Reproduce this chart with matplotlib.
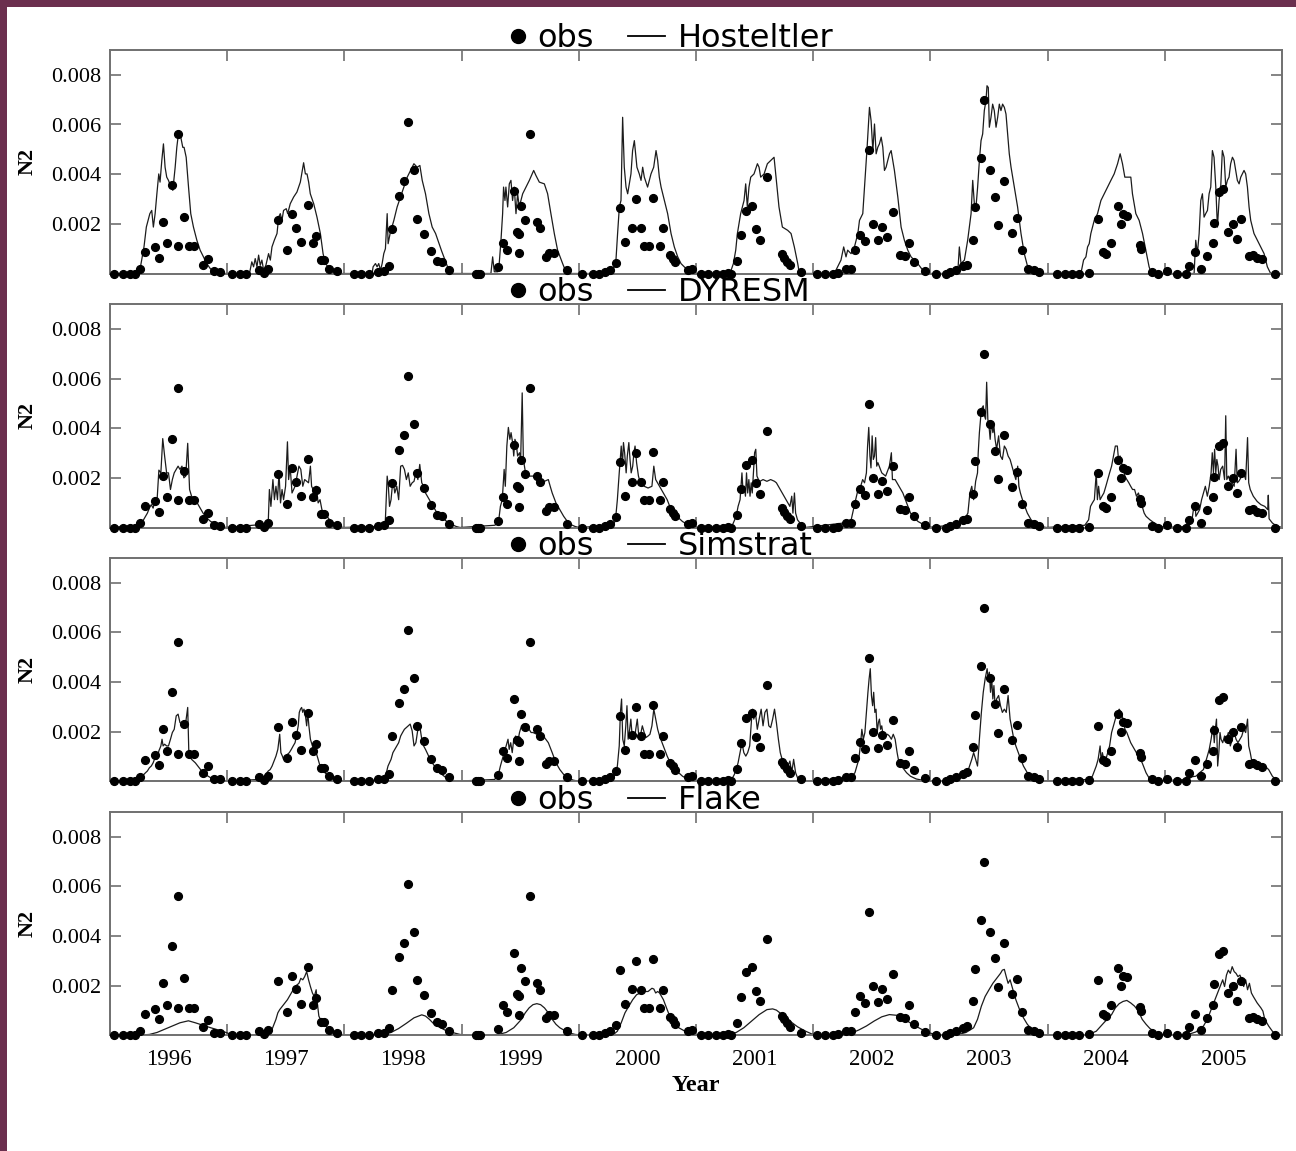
import numpy as np
import matplotlib
matplotlib.use("Agg")
import matplotlib.pyplot as plt
from matplotlib.lines import Line2D
from matplotlib.patches import Rectangle

# ---------------- data (N2 values in units of 1e-3) ----------------
model_names = ["Hosteltler", "DYRESM", "Simstrat", "Flake"]
year_labels = ["1996", "1997", "1998", "1999", "2000", "2001", "2002", "2003", "2004", "2005"]
y_tick_values = [0.002, 0.004, 0.006, 0.008]
y_tick_labels = ["0.002", "0.004", "0.006", "0.008"]

obs_pts = np.array([
    [1996.03, 0], [1996.11, 0], [1996.17, 0], [1996.21, 0], [1996.26, .17], [1996.30, .87], [1996.38, 1.06],
    [1996.42, .64], [1996.45, 2.09], [1996.49, 1.22], [1996.53, 3.58], [1996.58, 5.6], [1996.58, 1.09],
    [1996.63, 2.29], [1996.67, 1.09], [1996.72, 1.09], [1996.79, .34], [1996.84, .60], [1996.89, .10],
    [1996.94, .07], [1997.04, 0], [1997.11, 0], [1997.16, 0],
    [1997.27, .16], [1997.31, .03], [1997.35, .20], [1997.43, 2.17], [1997.51, .94], [1997.55, 2.38],
    [1997.59, 1.85], [1997.63, 1.27], [1997.69, 2.75], [1997.73, 1.22], [1997.76, 1.50], [1997.80, .53],
    [1997.83, .53], [1997.87, .20], [1997.94, .10], [1998.08, 0], [1998.14, 0], [1998.21, 0],
    [1998.29, .07], [1998.34, .10], [1998.38, .30], [1998.41, 1.81], [1998.47, 3.14], [1998.51, 3.71],
    [1998.54, 6.09], [1998.59, 4.17], [1998.62, 2.21], [1998.68, 1.60], [1998.74, .91], [1998.79, .52],
    [1998.83, .46], [1998.89, .16], [1999.12, 0], [1999.14, 0], [1999.16, 0],
    [1999.31, .25], [1999.35, 1.22], [1999.39, .94], [1999.45, 3.32], [1999.47, 1.67], [1999.49, 1.59],
    [1999.49, .82], [1999.51, 2.72], [1999.54, 2.17], [1999.58, 5.6], [1999.64, 2.09], [1999.67, 1.83],
    [1999.72, .68], [1999.75, .81], [1999.79, .81], [1999.90, .15], [2000.03, 0], [2000.12, 0],
    [2000.17, 0], [2000.22, .07],
    [2000.27, .16], [2000.32, .41], [2000.35, 2.64], [2000.39, 1.27], [2000.45, 1.85], [2000.49, 2.98],
    [2000.53, 1.83], [2000.56, 1.09], [2000.60, 1.09], [2000.63, 3.06], [2000.69, 1.10], [2000.72, 1.83],
    [2000.78, .74], [2000.80, .60], [2000.82, .45], [2000.93, .16], [2000.97, .20],
    [2001.04, 0], [2001.10, 0], [2001.17, 0], [2001.23, 0], [2001.27, .04], [2001.30, 0], [2001.35, .49],
    [2001.38, 1.54], [2001.43, 2.53], [2001.48, 2.73], [2001.51, 1.79], [2001.55, 1.36], [2001.61, 3.88],
    [2001.73, .77], [2001.75, .64], [2001.78, .48], [2001.80, .34], [2001.90, .07],
    [2002.03, 0], [2002.10, 0], [2002.17, 0], [2002.21, .04], [2002.28, .17], [2002.32, .17], [2002.36, .93],
    [2002.40, 1.56], [2002.44, 1.30], [2002.48, 4.98], [2002.51, 1.99], [2002.55, 1.35], [2002.59, 1.87],
    [2002.63, 1.46], [2002.68, 2.46], [2002.74, .74], [2002.78, .69], [2002.82, 1.23], [2002.86, .45],
    [2002.95, .12],
    [2003.05, 0], [2003.13, 0], [2003.17, .07], [2003.22, .16], [2003.28, .30], [2003.31, .36],
    [2003.36, 1.36], [2003.38, 2.68], [2003.43, 4.64], [2003.46, 6.99], [2003.51, 4.17], [2003.55, 3.10],
    [2003.58, 1.96], [2003.63, 3.71], [2003.70, 1.64], [2003.74, 2.25], [2003.78, .93], [2003.83, .20],
    [2003.88, .16], [2003.93, .07],
    [2004.08, 0], [2004.15, 0], [2004.21, 0], [2004.27, 0], [2004.35, .04], [2004.43, 2.21], [2004.47, .86],
    [2004.50, .77], [2004.54, 1.23], [2004.60, 2.72], [2004.63, 1.99], [2004.64, 2.38], [2004.68, 2.33],
    [2004.79, 1.14], [2004.80, .97], [2004.89, .07], [2004.94, 0],
    [2005.02, .10], [2005.10, 0], [2005.18, 0], [2005.21, .32], [2005.26, .87], [2005.31, .20],
    [2005.36, .69], [2005.41, 1.23], [2005.42, 2.05], [2005.46, 3.27], [2005.50, 3.39], [2005.54, 1.68],
    [2005.58, 1.99], [2005.62, 1.39], [2005.65, 2.19], [2005.72, .69], [2005.75, .74], [2005.79, .64],
    [2005.83, .58], [2005.94, 0],
])

hos_pts = np.array([
    [1996.0, 0], [1996.24, 0], [1996.26, .27], [1996.29, 1.07], [1996.31, 1.87], [1996.34, 2.41],
    [1996.356, 2.54], [1996.37, 1.87], [1996.385, 2.41], [1996.40, 3.21], [1996.416, 4.01], [1996.427, 3.68],
    [1996.442, 4.55], [1996.456, 5.22], [1996.47, 4.28], [1996.484, 3.88], [1996.499, 3.75], [1996.519, 3.48],
    [1996.536, 3.35], [1996.556, 4.28], [1996.57, 5.08], [1996.587, 5.75], [1996.604, 5.49], [1996.621, 5.08],
    [1996.632, 5.08], [1996.65, 4.68], [1996.67, 3.48], [1996.689, 2.41], [1996.712, 1.87], [1996.741, 1.34],
    [1996.769, .94], [1996.798, .67], [1996.826, .40], [1996.855, .20], [1996.883, .07], [1996.912, 0],
    [1997.19, 0], [1997.21, .47], [1997.225, .27], [1997.239, .60], [1997.254, .27], [1997.268, .74],
    [1997.282, .33], [1997.296, .54], [1997.311, .13], [1997.33, .33], [1997.353, .80], [1997.368, .54],
    [1997.382, 1.07], [1997.402, 1.34], [1997.425, 1.61], [1997.439, 2.27], [1997.453, 2.41], [1997.467, 2.14],
    [1997.481, 2.54], [1997.504, 2.61], [1997.516, 2.41], [1997.538, 2.81], [1997.567, 3.08], [1997.595, 3.28],
    [1997.624, 3.68], [1997.641, 4.15], [1997.652, 4.46], [1997.667, 4.01], [1997.681, 4.01], [1997.695, 3.68],
    [1997.709, 3.21], [1997.738, 2.81], [1997.766, 2.27], [1997.795, 1.61], [1997.818, .80], [1997.838, .40],
    [1997.88, .16], [1997.923, .03], [1997.966, 0],
    [1998.236, 0], [1998.245, .27], [1998.265, .40], [1998.279, .27], [1998.293, .40], [1998.308, .13],
    [1998.322, .40], [1998.336, .80], [1998.35, 1.00], [1998.365, 2.41], [1998.373, 1.20], [1998.39, 1.61],
    [1998.422, 2.14], [1998.45, 2.68], [1998.479, 3.08], [1998.507, 3.48], [1998.536, 3.88], [1998.564, 4.15],
    [1998.593, 4.42], [1998.621, 4.28], [1998.644, 4.35], [1998.664, 3.75], [1998.692, 3.21], [1998.721, 2.41],
    [1998.749, 1.87], [1998.778, 1.61], [1998.83, .90], [1998.87, .40], [1998.90, 0],
    [1999.25, 0], [1999.265, .67], [1999.279, .07], [1999.307, .07], [1999.321, .40], [1999.336, 1.34],
    [1999.35, 2.41], [1999.358, 3.48], [1999.37, 2.94], [1999.378, 3.48], [1999.393, 2.68], [1999.407, 3.61],
    [1999.421, 3.75], [1999.435, 2.94], [1999.449, 3.48], [1999.464, 2.41], [1999.478, 3.21], [1999.492, 2.68],
    [1999.506, 2.94], [1999.521, 3.21], [1999.549, 3.48], [1999.578, 3.75], [1999.615, 4.15], [1999.634, 3.95],
    [1999.663, 3.68], [1999.706, 3.61], [1999.734, 3.21], [1999.762, 2.41], [1999.791, 1.61], [1999.819, .94],
    [1999.862, .40], [1999.89, .07], [1999.905, 0],
    [2000.275, 0], [2000.303, .27], [2000.317, .54], [2000.331, 1.61], [2000.346, 2.68], [2000.36, 2.94],
    [2000.367, 4.55], [2000.374, 6.29], [2000.388, 4.28], [2000.403, 3.48], [2000.417, 3.21], [2000.445, 4.01],
    [2000.459, 4.95], [2000.474, 5.35], [2000.488, 4.68], [2000.496, 4.28], [2000.516, 4.01], [2000.531, 3.75],
    [2000.545, 4.28], [2000.559, 3.88], [2000.587, 3.48], [2000.616, 4.01], [2000.639, 4.28], [2000.659, 4.95],
    [2000.673, 4.55], [2000.687, 3.88], [2000.702, 3.48], [2000.73, 2.94], [2000.758, 2.41], [2000.787, 1.61],
    [2000.815, 1.07], [2000.844, .67], [2000.872, .40], [2000.90, .27], [2000.929, .13], [2000.957, .07],
    [2001.0, 0],
    [2001.29, 0], [2001.319, .40], [2001.339, .94], [2001.353, 1.61], [2001.381, 2.41], [2001.41, 2.94],
    [2001.424, 3.61], [2001.438, 2.68], [2001.452, 3.48], [2001.467, 3.88], [2001.495, 4.01], [2001.524, 4.42],
    [2001.538, 4.28], [2001.552, 3.88], [2001.581, 4.01], [2001.609, 4.42], [2001.637, 4.55], [2001.666, 4.68],
    [2001.68, 4.01], [2001.708, 2.68], [2001.737, 1.87], [2001.782, 1.74], [2001.811, 1.61], [2001.839, 1.07],
    [2001.868, .40], [2001.882, 0],
    [2002.18, 0], [2002.209, .27], [2002.237, .54], [2002.26, 1.07], [2002.28, .67], [2002.294, .94],
    [2002.323, .80], [2002.352, 1.07], [2002.381, 1.61], [2002.395, 2.14], [2002.423, 2.41], [2002.438, 3.48],
    [2002.46, 5.08], [2002.48, 6.69], [2002.494, 6.15], [2002.509, 4.95], [2002.523, 6.02], [2002.537, 4.82],
    [2002.551, 5.08], [2002.565, 5.22], [2002.58, 5.49], [2002.594, 5.08], [2002.608, 4.15], [2002.622, 4.28],
    [2002.636, 4.55], [2002.651, 4.82], [2002.665, 4.95], [2002.679, 4.55], [2002.693, 4.15], [2002.722, 3.08],
    [2002.75, 1.87], [2002.778, 1.34], [2002.807, .94], [2002.835, .67], [2002.892, .40], [2002.935, .13],
    [2002.977, 0],
    [2003.233, 0], [2003.247, 1.07], [2003.261, .40], [2003.29, .54], [2003.318, 1.34], [2003.347, 2.41],
    [2003.361, 3.75], [2003.375, 2.81], [2003.389, 2.68], [2003.403, 3.48], [2003.418, 4.55], [2003.432, 5.35],
    [2003.446, 5.62], [2003.46, 6.56], [2003.474, 6.96], [2003.483, 7.56], [2003.494, 7.49], [2003.503, 5.89],
    [2003.517, 6.29], [2003.531, 6.82], [2003.545, 6.56], [2003.56, 5.89], [2003.574, 6.29], [2003.588, 6.82],
    [2003.602, 6.56], [2003.616, 6.82], [2003.631, 6.69], [2003.645, 6.42], [2003.659, 5.62], [2003.673, 4.82],
    [2003.688, 4.28], [2003.716, 3.48], [2003.744, 2.68], [2003.773, 1.61], [2003.801, .80], [2003.83, .27],
    [2003.858, .07], [2003.901, 0],
    [2004.284, 0], [2004.307, .54], [2004.327, .67], [2004.341, 1.07], [2004.355, 1.20], [2004.369, 1.61],
    [2004.398, 2.14], [2004.426, 2.41], [2004.455, 2.94], [2004.483, 3.21], [2004.511, 3.48], [2004.54, 3.75],
    [2004.568, 4.01], [2004.597, 4.42], [2004.619, 4.82], [2004.639, 4.42], [2004.659, 3.88], [2004.682, 3.88],
    [2004.71, 3.88], [2004.724, 3.21], [2004.753, 2.41], [2004.781, 2.14], [2004.81, 1.61], [2004.838, .94],
    [2004.866, .27], [2004.881, .07], [2004.895, 0],
    [2005.25, 0], [2005.264, 1.34], [2005.278, .80], [2005.293, 1.61], [2005.307, 2.94], [2005.321, 3.21],
    [2005.335, 2.27], [2005.349, 2.41], [2005.364, 2.54], [2005.378, 3.21], [2005.392, 3.48], [2005.406, 4.95],
    [2005.42, 4.68], [2005.435, 3.48], [2005.449, 1.87], [2005.463, 2.94], [2005.477, 3.48], [2005.491, 4.95],
    [2005.506, 4.68], [2005.52, 3.48], [2005.534, 3.75], [2005.548, 3.88], [2005.562, 4.42], [2005.577, 4.68],
    [2005.591, 4.55], [2005.605, 4.15], [2005.619, 3.75], [2005.634, 3.61], [2005.648, 3.88], [2005.676, 4.15],
    [2005.69, 4.01], [2005.705, 3.48], [2005.719, 2.68], [2005.733, 2.14], [2005.761, 1.61], [2005.79, 1.34],
    [2005.818, 1.07], [2005.847, .80], [2005.875, .27], [2005.903, 0], [2006.0, 0],
])

dyr_pts = np.array([
    [1996.0, 0], [1996.254, .09], [1996.286, .31], [1996.303, .45], [1996.319, .58], [1996.336, .78],
    [1996.352, .92], [1996.368, .78], [1996.385, 1.12], [1996.401, 1.05], [1996.417, 2.31], [1996.434, 2.20],
    [1996.45, 3.58], [1996.466, 2.88], [1996.483, 2.20], [1996.499, 2.20], [1996.516, 1.53], [1996.532, 1.93],
    [1996.548, 2.20], [1996.565, 2.34], [1996.581, 2.47], [1996.597, 2.34], [1996.614, 2.47], [1996.63, 2.0],
    [1996.646, 2.07], [1996.663, 3.39], [1996.679, 1.53], [1996.696, 1.26], [1996.728, 1.12], [1996.761, .85],
    [1996.794, .58], [1996.827, .38], [1996.859, .24], [1996.892, .18], [1996.925, .11], [1996.957, .04],
    [1996.99, 0],
    [1997.268, .11], [1997.301, .04], [1997.334, .09], [1997.35, .18], [1997.36, 1.53], [1997.373, .85],
    [1997.39, 1.93], [1997.403, 1.12], [1997.416, 1.66], [1997.429, 1.12], [1997.442, 2.20], [1997.455, .99],
    [1997.468, 1.53], [1997.481, 1.12], [1997.498, 1.66], [1997.514, 3.45], [1997.524, 1.93], [1997.537, 2.47],
    [1997.553, 1.39], [1997.566, 1.53], [1997.579, 1.66], [1997.596, 2.07], [1997.612, 2.47], [1997.628, 2.34],
    [1997.645, 1.66], [1997.661, 1.93], [1997.678, 1.86], [1997.694, 1.80], [1997.71, 2.47], [1997.72, 1.66],
    [1997.733, 1.53], [1997.743, 1.12], [1997.759, 1.66], [1997.776, .99], [1997.792, 1.12], [1997.808, .72],
    [1997.841, .51], [1997.874, .31], [1997.907, .18], [1997.939, .07], [1997.989, 0],
    [1998.267, .04], [1998.316, .09], [1998.349, .24], [1998.365, 2.07], [1998.375, 1.66], [1998.385, .85],
    [1998.398, 1.12], [1998.414, 1.93], [1998.43, 1.39], [1998.447, 1.66], [1998.463, 1.12], [1998.48, 2.47],
    [1998.496, 2.50], [1998.512, 2.34], [1998.529, 1.93], [1998.545, 2.20], [1998.561, 1.66], [1998.578, 1.80],
    [1998.594, 1.86], [1998.61, 2.20], [1998.627, 1.93], [1998.643, 2.54], [1998.66, 1.80], [1998.676, 1.66],
    [1998.692, 1.39], [1998.725, 1.12], [1998.758, .85], [1998.791, .58], [1998.823, .45], [1998.856, .31],
    [1998.889, .18], [1998.921, .11], [1998.954, .04], [1998.987, 0],
    [1999.282, .09], [1999.314, .18], [1999.331, .85], [1999.347, 1.12], [1999.363, 2.34], [1999.373, 1.66],
    [1999.386, 3.28], [1999.399, 4.03], [1999.412, 3.55], [1999.422, 3.82], [1999.435, 3.42], [1999.445, 2.88],
    [1999.455, 3.55], [1999.465, 3.42], [1999.478, 2.88], [1999.494, 3.01], [1999.504, 2.74], [1999.517, 5.42],
    [1999.527, 2.74], [1999.543, 2.27], [1999.56, 2.20], [1999.576, 2.07], [1999.609, 2.07], [1999.642, 2.0],
    [1999.674, 1.93], [1999.707, 1.86], [1999.74, 1.93], [1999.756, 1.66], [1999.773, 1.39], [1999.805, .99],
    [1999.838, .72], [1999.871, .45], [1999.903, .24], [1999.936, .11], [1999.969, .04], [2000.002, 0],
    [2000.296, .09], [2000.313, .31], [2000.329, 1.12], [2000.345, 2.20], [2000.362, 3.28], [2000.372, 2.47],
    [2000.381, 3.42], [2000.391, 3.01], [2000.404, 2.20], [2000.414, 2.88], [2000.427, 3.42], [2000.437, 2.74],
    [2000.447, 2.20], [2000.46, 2.47], [2000.47, 3.01], [2000.48, 3.28], [2000.493, 2.61], [2000.509, 2.07],
    [2000.525, 1.80], [2000.558, 1.66], [2000.591, 1.59], [2000.624, 1.66], [2000.64, 2.47], [2000.656, 1.93],
    [2000.689, 1.66], [2000.722, 1.39], [2000.754, 1.12], [2000.787, .72], [2000.82, .51], [2000.853, .38],
    [2000.885, .24], [2000.918, .15], [2000.967, .04], [2001.016, 0],
    [2001.278, .04], [2001.31, .09], [2001.343, .45], [2001.359, .85], [2001.376, 1.12], [2001.392, 2.20],
    [2001.402, 1.39], [2001.412, 1.66], [2001.422, 1.26], [2001.431, 2.20], [2001.441, 1.39], [2001.451, 1.93],
    [2001.461, 1.26], [2001.471, 1.80], [2001.48, 1.39], [2001.49, 2.20], [2001.50, 3.01], [2001.51, 3.15],
    [2001.52, 2.07], [2001.533, 1.93], [2001.546, 1.86], [2001.572, 1.93], [2001.605, 1.86], [2001.637, 1.93],
    [2001.67, 1.86], [2001.686, 1.80], [2001.703, 1.66], [2001.735, 1.39], [2001.768, 1.12], [2001.784, .99],
    [2001.801, .85], [2001.817, 1.26], [2001.827, .58], [2001.84, 1.39], [2001.85, .58], [2001.866, .31],
    [2001.899, .11], [2001.931, 0],
    [2002.258, .18], [2002.291, .24], [2002.324, .31], [2002.356, .99], [2002.389, 1.66], [2002.405, 1.66],
    [2002.422, 1.93], [2002.438, 1.80], [2002.454, 2.20], [2002.464, 3.28], [2002.474, 4.03], [2002.484, 2.88],
    [2002.493, 2.40], [2002.503, 3.69], [2002.513, 2.74], [2002.523, 2.88], [2002.533, 3.62], [2002.542, 2.47],
    [2002.552, 2.61], [2002.585, 2.20], [2002.618, 2.07], [2002.65, 2.47], [2002.667, 3.01], [2002.676, 1.93],
    [2002.699, 1.93], [2002.732, 1.66], [2002.765, 1.39], [2002.797, .99], [2002.83, .58], [2002.863, .38],
    [2002.895, .24], [2002.944, .11], [2002.977, 0],
    [2003.173, .09], [2003.239, .18], [2003.288, .31], [2003.32, .58], [2003.337, 1.39], [2003.353, 1.66],
    [2003.369, 1.12], [2003.386, 1.86], [2003.402, 2.20], [2003.408, 3.01], [2003.418, 3.82], [2003.435, 4.77],
    [2003.451, 4.90], [2003.461, 4.50], [2003.471, 4.36], [2003.48, 5.85], [2003.49, 4.36], [2003.50, 4.09],
    [2003.51, 3.55], [2003.52, 4.23], [2003.533, 3.82], [2003.542, 4.09], [2003.552, 3.55], [2003.565, 3.15],
    [2003.582, 3.69], [2003.598, 2.88], [2003.614, 2.74], [2003.631, 3.28], [2003.647, 3.15], [2003.663, 2.88],
    [2003.68, 2.74], [2003.696, 2.47], [2003.712, 2.20], [2003.729, 1.93], [2003.745, 2.47], [2003.755, 1.66],
    [2003.768, 1.39], [2003.794, .99], [2003.827, .58], [2003.859, .31], [2003.892, .18], [2003.941, .04],
    [2003.99, 0],
    [2004.317, .09], [2004.35, .31], [2004.366, .85], [2004.382, .99], [2004.399, 1.12], [2004.415, 2.20],
    [2004.425, 1.12], [2004.435, 1.66], [2004.448, 1.12], [2004.464, 1.26], [2004.48, 1.39], [2004.497, 1.66],
    [2004.513, 1.93], [2004.529, 2.20], [2004.546, 2.47], [2004.562, 2.88], [2004.578, 3.28], [2004.595, 3.28],
    [2004.605, 2.74], [2004.618, 2.88], [2004.631, 2.61], [2004.644, 2.34], [2004.66, 2.07], [2004.676, 1.93],
    [2004.693, 1.80], [2004.709, 1.66], [2004.725, 1.53], [2004.742, 1.53], [2004.758, 1.26], [2004.775, 1.39],
    [2004.791, 1.12], [2004.807, .85], [2004.824, .58], [2004.84, .45], [2004.873, .31], [2004.905, .20],
    [2004.938, .11], [2004.971, .04], [2005.003, 0],
    [2005.199, .04], [2005.232, .31], [2005.248, .85], [2005.258, .99], [2005.265, .45], [2005.281, .58],
    [2005.297, .72], [2005.314, 1.12], [2005.33, 1.39], [2005.346, 1.66], [2005.363, 1.26], [2005.379, 1.66],
    [2005.395, 2.20], [2005.405, 3.01], [2005.415, 2.20], [2005.425, 3.15], [2005.435, 2.20], [2005.444, 2.74],
    [2005.454, 2.47], [2005.464, 1.93], [2005.477, 2.34], [2005.494, 2.47], [2005.51, 1.93], [2005.52, 4.50],
    [2005.529, 1.93], [2005.542, 2.07], [2005.559, 1.86], [2005.575, 1.80], [2005.592, 1.66], [2005.608, 3.15],
    [2005.618, 1.80], [2005.631, 1.86], [2005.657, 2.07], [2005.673, 2.20], [2005.69, 1.93], [2005.706, 3.62],
    [2005.716, 1.80], [2005.729, 1.53], [2005.755, 1.26], [2005.788, 1.05], [2005.82, .92], [2005.853, .85],
    [2005.878, .72], [2005.883, 1.30], [2005.89, .35], [2005.918, .18], [2005.951, .07], [2006.0, 0],
])

sim_pts = np.array([
    [1996.0, 0], [1996.237, .07], [1996.27, .18], [1996.303, .34], [1996.319, .41], [1996.336, .54],
    [1996.352, .61], [1996.368, .74], [1996.385, .95], [1996.401, .88], [1996.417, 1.22], [1996.434, 1.42],
    [1996.444, 1.69], [1996.453, 1.42], [1996.466, 1.49], [1996.483, 1.42], [1996.499, 1.42], [1996.516, 1.69],
    [1996.532, 1.96], [1996.548, 2.09], [1996.565, 2.63], [1996.581, 2.70], [1996.597, 2.36], [1996.614, 2.30],
    [1996.63, 2.43], [1996.646, 2.36], [1996.663, 2.97], [1996.673, 1.08], [1996.696, .88], [1996.728, .74],
    [1996.761, .54], [1996.794, .34], [1996.827, .23], [1996.859, .14], [1996.892, .07], [1996.941, .03],
    [1997.0, 0],
    [1997.268, .07], [1997.318, .20], [1997.35, .41], [1997.367, .47], [1997.383, .61], [1997.399, .81],
    [1997.416, 1.01], [1997.432, 1.28], [1997.448, 1.89], [1997.458, 1.15], [1997.471, 1.01], [1997.481, .88],
    [1997.498, .95], [1997.514, 1.08], [1997.53, 1.15], [1997.547, 1.28], [1997.563, 1.42], [1997.579, 1.55],
    [1997.596, 1.96], [1997.606, 2.23], [1997.615, 2.77], [1997.625, 2.90], [1997.635, 2.97], [1997.645, 2.77],
    [1997.655, 2.90], [1997.664, 2.77], [1997.678, 2.23], [1997.687, 2.77], [1997.697, 2.23], [1997.71, 1.69],
    [1997.727, 1.42], [1997.743, 1.28], [1997.759, 1.15], [1997.776, .88], [1997.792, .61], [1997.809, .47],
    [1997.841, .31], [1997.874, .20], [1997.923, .07], [1997.972, 0],
    [1998.283, .04], [1998.332, .12], [1998.358, .34], [1998.372, .61], [1998.385, .74], [1998.398, .88],
    [1998.414, 1.15], [1998.43, 1.28], [1998.447, 1.42], [1998.463, 1.55], [1998.48, 1.82], [1998.496, 1.96],
    [1998.512, 2.09], [1998.529, 2.16], [1998.545, 2.23], [1998.561, 2.30], [1998.578, 2.03], [1998.594, 1.42],
    [1998.61, 1.55], [1998.627, 2.09], [1998.643, 2.23], [1998.66, 1.69], [1998.676, 1.42], [1998.692, 1.28],
    [1998.725, .95], [1998.758, .68], [1998.791, .47], [1998.823, .31], [1998.856, .18], [1998.905, .07],
    [1998.954, 0],
    [1999.282, .07], [1999.314, .27], [1999.331, .61], [1999.347, .88], [1999.363, 1.15], [1999.38, 1.42],
    [1999.396, 1.69], [1999.406, 1.28], [1999.419, 1.55], [1999.432, 1.15], [1999.445, 1.69], [1999.462, 1.82],
    [1999.478, 1.55], [1999.494, 1.96], [1999.511, 2.23], [1999.527, 2.30], [1999.543, 2.23], [1999.56, 2.16],
    [1999.576, 2.09], [1999.593, 1.96], [1999.609, 1.96], [1999.642, 1.89], [1999.674, 1.89], [1999.707, 1.76],
    [1999.74, 1.55], [1999.773, 1.15], [1999.805, .74], [1999.838, .47], [1999.871, .27], [1999.903, .14],
    [1999.953, .04], [2000.002, 0],
    [2000.28, .07], [2000.313, .27], [2000.329, .61], [2000.345, 1.42], [2000.355, 2.77], [2000.365, 3.31],
    [2000.375, 1.69], [2000.388, 1.42], [2000.401, 2.23], [2000.411, 3.04], [2000.421, 1.69], [2000.434, 2.09],
    [2000.444, 2.50], [2000.453, 1.96], [2000.466, 1.96], [2000.476, 1.69], [2000.486, 2.09], [2000.499, 2.50],
    [2000.509, 1.96], [2000.525, 1.82], [2000.542, 2.23], [2000.558, 1.96], [2000.574, 1.76], [2000.591, 1.82],
    [2000.607, 1.89], [2000.624, 2.23], [2000.64, 2.90], [2000.656, 2.50], [2000.673, 2.09], [2000.689, 1.82],
    [2000.705, 1.62], [2000.722, 1.42], [2000.754, 1.01], [2000.787, .68], [2000.82, .47], [2000.853, .34],
    [2000.885, .20], [2000.934, .07], [2000.984, 0],
    [2001.278, .03], [2001.31, .12], [2001.327, .27], [2001.343, .47], [2001.359, .74], [2001.376, 1.15],
    [2001.392, 1.55], [2001.408, 1.15], [2001.425, 1.01], [2001.441, 1.15], [2001.458, 1.42], [2001.474, 2.50],
    [2001.484, 2.90], [2001.493, 2.50], [2001.507, 2.77], [2001.523, 2.09], [2001.539, 2.50], [2001.556, 2.90],
    [2001.572, 2.23], [2001.588, 2.77], [2001.605, 2.90], [2001.621, 2.23], [2001.637, 2.16], [2001.654, 2.50],
    [2001.67, 2.90], [2001.686, 2.36], [2001.703, 1.69], [2001.719, 1.15], [2001.735, .88], [2001.768, .74],
    [2001.784, .61], [2001.801, .81], [2001.817, .34], [2001.833, .88], [2001.85, .34], [2001.866, .14],
    [2001.899, .04], [2001.931, 0],
    [2002.258, .12], [2002.324, .18], [2002.356, .34], [2002.389, .88], [2002.405, 1.55], [2002.415, 2.09],
    [2002.428, 1.69], [2002.441, 1.96], [2002.454, 2.77], [2002.467, 3.58], [2002.477, 4.12], [2002.487, 4.53],
    [2002.497, 3.45], [2002.507, 3.04], [2002.516, 3.58], [2002.526, 2.77], [2002.536, 2.90], [2002.546, 1.96],
    [2002.556, 2.36], [2002.565, 2.50], [2002.575, 2.09], [2002.585, 2.23], [2002.595, 1.89], [2002.605, 1.96],
    [2002.618, 1.82], [2002.634, 1.89], [2002.65, 1.82], [2002.667, 1.69], [2002.683, 1.89], [2002.699, 1.69],
    [2002.716, 1.15], [2002.732, .74], [2002.765, .54], [2002.797, .34], [2002.83, .20], [2002.879, .09],
    [2002.944, .03], [2003.0, 0],
    [2003.173, .04], [2003.239, .09], [2003.288, .20], [2003.32, .41], [2003.353, .88], [2003.369, 1.15],
    [2003.386, .88], [2003.402, .61], [2003.418, 1.69], [2003.435, 2.77], [2003.451, 3.58], [2003.467, 4.12],
    [2003.484, 4.53], [2003.493, 4.12], [2003.503, 4.39], [2003.513, 3.58], [2003.523, 4.12], [2003.533, 3.31],
    [2003.542, 3.85], [2003.552, 3.04], [2003.565, 3.31], [2003.582, 3.45], [2003.598, 3.04], [2003.614, 2.77],
    [2003.631, 2.90], [2003.647, 2.77], [2003.663, 3.45], [2003.68, 2.50], [2003.696, 2.09], [2003.712, 1.69],
    [2003.729, 1.42], [2003.761, 1.01], [2003.794, .61], [2003.827, .34], [2003.859, .18], [2003.908, .07],
    [2003.958, 0],
    [2004.35, .07], [2004.382, .20], [2004.415, .61], [2004.431, .88], [2004.448, 1.42], [2004.458, .74],
    [2004.467, 1.15], [2004.48, .88], [2004.497, .88], [2004.513, 1.15], [2004.529, 1.42], [2004.546, 1.96],
    [2004.562, 2.23], [2004.578, 2.50], [2004.595, 2.77], [2004.611, 2.90], [2004.627, 2.77], [2004.644, 2.50],
    [2004.66, 2.09], [2004.676, 1.96], [2004.709, 1.55], [2004.742, 1.28], [2004.775, 1.01], [2004.807, .74],
    [2004.84, .34], [2004.873, .07], [2004.905, 0],
    [2005.199, .07], [2005.232, .18], [2005.265, .20], [2005.297, .34], [2005.33, .47], [2005.346, .74],
    [2005.363, 1.01], [2005.379, 1.28], [2005.395, 1.69], [2005.412, 2.23], [2005.422, 1.55], [2005.431, 2.09],
    [2005.441, 2.50], [2005.451, .61], [2005.461, 1.15], [2005.471, 1.96], [2005.48, 1.69], [2005.494, 1.55],
    [2005.51, 1.82], [2005.526, 1.69], [2005.542, 1.96], [2005.559, 1.42], [2005.575, 1.69], [2005.592, 1.96],
    [2005.608, 1.69], [2005.624, 1.55], [2005.641, 1.69], [2005.657, 1.82], [2005.673, 2.09], [2005.69, 1.96],
    [2005.706, 2.50], [2005.716, 1.42], [2005.729, 1.15], [2005.745, .74], [2005.755, .70], [2005.788, .68],
    [2005.82, .63], [2005.853, .61], [2005.886, .47], [2005.918, .20], [2005.951, .04], [2006.0, 0],
])

flk_pts = np.array([
    [1996.0, 0], [1996.237, 0], [1996.336, .03], [1996.401, .11], [1996.466, .24], [1996.532, .37],
    [1996.597, .50], [1996.669, .58], [1996.728, .50], [1996.794, .40], [1996.859, .30], [1996.925, .21],
    [1996.99, .11], [1997.023, .05], [1997.1, 0],
    [1997.318, .03], [1997.35, .11], [1997.383, .24], [1997.416, .64], [1997.432, .90], [1997.448, 1.03],
    [1997.481, 1.23], [1997.514, 1.43], [1997.547, 1.70], [1997.579, 1.96], [1997.612, 2.09], [1997.628, 2.29],
    [1997.645, 2.23], [1997.661, 2.36], [1997.678, 2.56], [1997.694, 2.23], [1997.71, 1.96], [1997.727, 1.70],
    [1997.743, 1.56], [1997.759, 1.83], [1997.769, 1.30], [1997.782, .77], [1997.809, .50], [1997.841, .37],
    [1997.874, .24], [1997.923, .11], [1997.972, .03], [1998.05, 0],
    [1998.332, .03], [1998.398, .11], [1998.463, .27], [1998.529, .48], [1998.594, .70], [1998.66, .82],
    [1998.692, .77], [1998.725, .64], [1998.758, .48], [1998.791, .37], [1998.823, .30], [1998.856, .21],
    [1998.921, .11], [1998.987, .03], [1999.05, 0],
    [1999.25, 0], [1999.314, .03], [1999.38, .11], [1999.445, .30], [1999.511, .64], [1999.543, .90],
    [1999.576, 1.10], [1999.609, 1.23], [1999.642, 1.27], [1999.674, 1.23], [1999.707, 1.10], [1999.74, .90],
    [1999.773, .64], [1999.805, .44], [1999.838, .30], [1999.871, .21], [1999.903, .11], [1999.969, .03],
    [2000.05, 0],
    [2000.25, 0], [2000.296, .03], [2000.329, .16], [2000.362, .50], [2000.394, .90], [2000.427, 1.17],
    [2000.46, 1.43], [2000.493, 1.63], [2000.525, 1.70], [2000.558, 1.76], [2000.591, 1.76], [2000.624, 1.89],
    [2000.64, 1.86], [2000.656, 1.70], [2000.673, 1.76], [2000.689, 1.70], [2000.722, 1.43], [2000.754, 1.03],
    [2000.787, .64], [2000.82, .44], [2000.853, .30], [2000.918, .13], [2000.984, .03], [2001.05, 0],
    [2001.25, 0], [2001.278, .03], [2001.343, .11], [2001.408, .30], [2001.474, .57], [2001.539, .83],
    [2001.605, 1.03], [2001.654, 1.06], [2001.686, 1.01], [2001.735, .83], [2001.801, .57], [2001.866, .34],
    [2001.931, .17], [2001.997, .03], [2002.05, 0],
    [2002.2, 0], [2002.258, .03], [2002.324, .08], [2002.389, .21], [2002.454, .37], [2002.52, .57],
    [2002.585, .74], [2002.65, .83], [2002.716, .80], [2002.781, .64], [2002.846, .44], [2002.912, .27],
    [2002.977, .11], [2003.042, .03], [2003.1, 0],
    [2003.239, .03], [2003.304, .11], [2003.369, .30], [2003.402, .64], [2003.435, 1.17], [2003.467, 1.56],
    [2003.50, 1.83], [2003.533, 2.09], [2003.565, 2.29], [2003.598, 2.49], [2003.614, 2.62], [2003.631, 2.65],
    [2003.647, 2.36], [2003.663, 2.09], [2003.68, 2.23], [2003.696, 1.96], [2003.712, 1.70], [2003.729, 1.43],
    [2003.761, 1.03], [2003.794, .70], [2003.827, .44], [2003.859, .27], [2003.892, .13], [2003.941, .03],
    [2004.0, 0],
    [2004.3, 0], [2004.35, .03], [2004.415, .16], [2004.48, .50], [2004.546, .83], [2004.578, 1.10],
    [2004.611, 1.27], [2004.644, 1.36], [2004.676, 1.40], [2004.709, 1.30], [2004.742, 1.17], [2004.775, .97],
    [2004.807, .64], [2004.84, .44], [2004.873, .27], [2004.922, .11], [2004.971, .03], [2005.05, 0],
    [2005.15, 0], [2005.199, .03], [2005.265, .13], [2005.33, .37], [2005.363, .64], [2005.395, 1.03],
    [2005.428, 1.43], [2005.461, 1.83], [2005.494, 2.23], [2005.51, 1.96], [2005.526, 2.42], [2005.542, 2.62],
    [2005.559, 2.49], [2005.575, 2.76], [2005.592, 2.56], [2005.608, 2.49], [2005.624, 2.36], [2005.641, 2.42],
    [2005.657, 2.23], [2005.673, 1.96], [2005.69, 2.23], [2005.706, 1.83], [2005.722, 2.09], [2005.739, 1.70],
    [2005.755, 1.56], [2005.788, 1.30], [2005.82, 1.10], [2005.837, .97], [2005.853, .64], [2005.886, .37],
    [2005.918, .16], [2005.951, .03], [2006.0, 0],
])

model_series = [hos_pts, dyr_pts, sim_pts, flk_pts]
SCALE = 1e-3  # values above are in units of 1e-3

# ---------------- figure ----------------
W, H = 1296, 1151
plt.rcParams["font.family"] = ["Liberation Serif", "DejaVu Serif"]
fig = plt.figure(figsize=(W / 100, H / 100), dpi=100, facecolor="white")

frame_col = "#6b2f4e"
fig.add_artist(Rectangle((0, 1 - 7 / H), 1, 7 / H, transform=fig.transFigure,
                         facecolor=frame_col, edgecolor="none", zorder=0))
fig.add_artist(Rectangle((0, 0), 7 / W, 1, transform=fig.transFigure,
                         facecolor=frame_col, edgecolor="none", zorder=0))

spine_col = "#707070"
ax_left_px, ax_w_px, ax_h_px = 110, 1172, 223.5
tops_px = [50, 304, 557.7, 811.7]

major_pos = [int(y) + 0.5 for y in year_labels]
minor_pos = [int(y) for y in year_labels[1:]]

for i, (name, pts) in enumerate(zip(model_names, model_series)):
    bottom = 1 - (tops_px[i] + ax_h_px) / H
    ax = fig.add_axes([ax_left_px / W, bottom, ax_w_px / W, ax_h_px / H])
    ax.plot(pts[:, 0], pts[:, 1] * SCALE, color="#1c1c1c", lw=0.9, zorder=2)
    ax.plot(obs_pts[:, 0], obs_pts[:, 1] * SCALE, "o", ms=5.6, color="black",
            mec="black", clip_on=False, zorder=3)

    ax.set_xlim(1996, 2006)
    ax.set_ylim(0, 0.009)
    ax.set_xticks(major_pos)
    ax.set_xticklabels(year_labels)
    ax.set_xticks(minor_pos, minor=True)
    ax.tick_params(axis="x", which="major", length=0, labelsize=16.5, pad=10,
                   labelbottom=(i == 3))
    ax.tick_params(axis="x", which="minor", direction="in", length=8, width=1.2,
                   color=spine_col, top=True, bottom=True)
    ax.set_yticks(y_tick_values)
    ax.set_yticklabels(y_tick_labels)
    ax.tick_params(axis="y", which="major", direction="in", length=8, width=1.2,
                   color=spine_col, left=True, right=True, labelsize=16, pad=6)
    for sp in ax.spines.values():
        sp.set_color(spine_col)
        sp.set_linewidth(1.4)

    ax.set_ylabel("N2", fontsize=16, fontweight="bold")
    ax.yaxis.set_label_coords(-0.0614, 0.5)
    if i == 3:
        ax.set_xlabel("Year", fontsize=17.5, fontweight="bold")
        ax.xaxis.set_label_coords(0.5, -0.18)

    # header: "• obs   — model"
    base_y = 1 - (tops_px[i] - 3) / H
    sym_y = 1 - (tops_px[i] - 14) / H
    fig.add_artist(Line2D([518 / W], [sym_y], marker="o", ms=10, color="black",
                          transform=fig.transFigure))
    fig.add_artist(Line2D([628 / W, 665 / W], [sym_y, sym_y], color="black", lw=1.3,
                          transform=fig.transFigure))
    fig.text(537 / W, base_y, "obs", fontsize=23, family=["DejaVu Sans"], va="baseline",
             ha="left", color="black")
    fig.text(678 / W, base_y, name, fontsize=23, family=["DejaVu Sans"], va="baseline",
             ha="left", color="black")

fig.savefig("out.png", dpi=100, facecolor="white")
